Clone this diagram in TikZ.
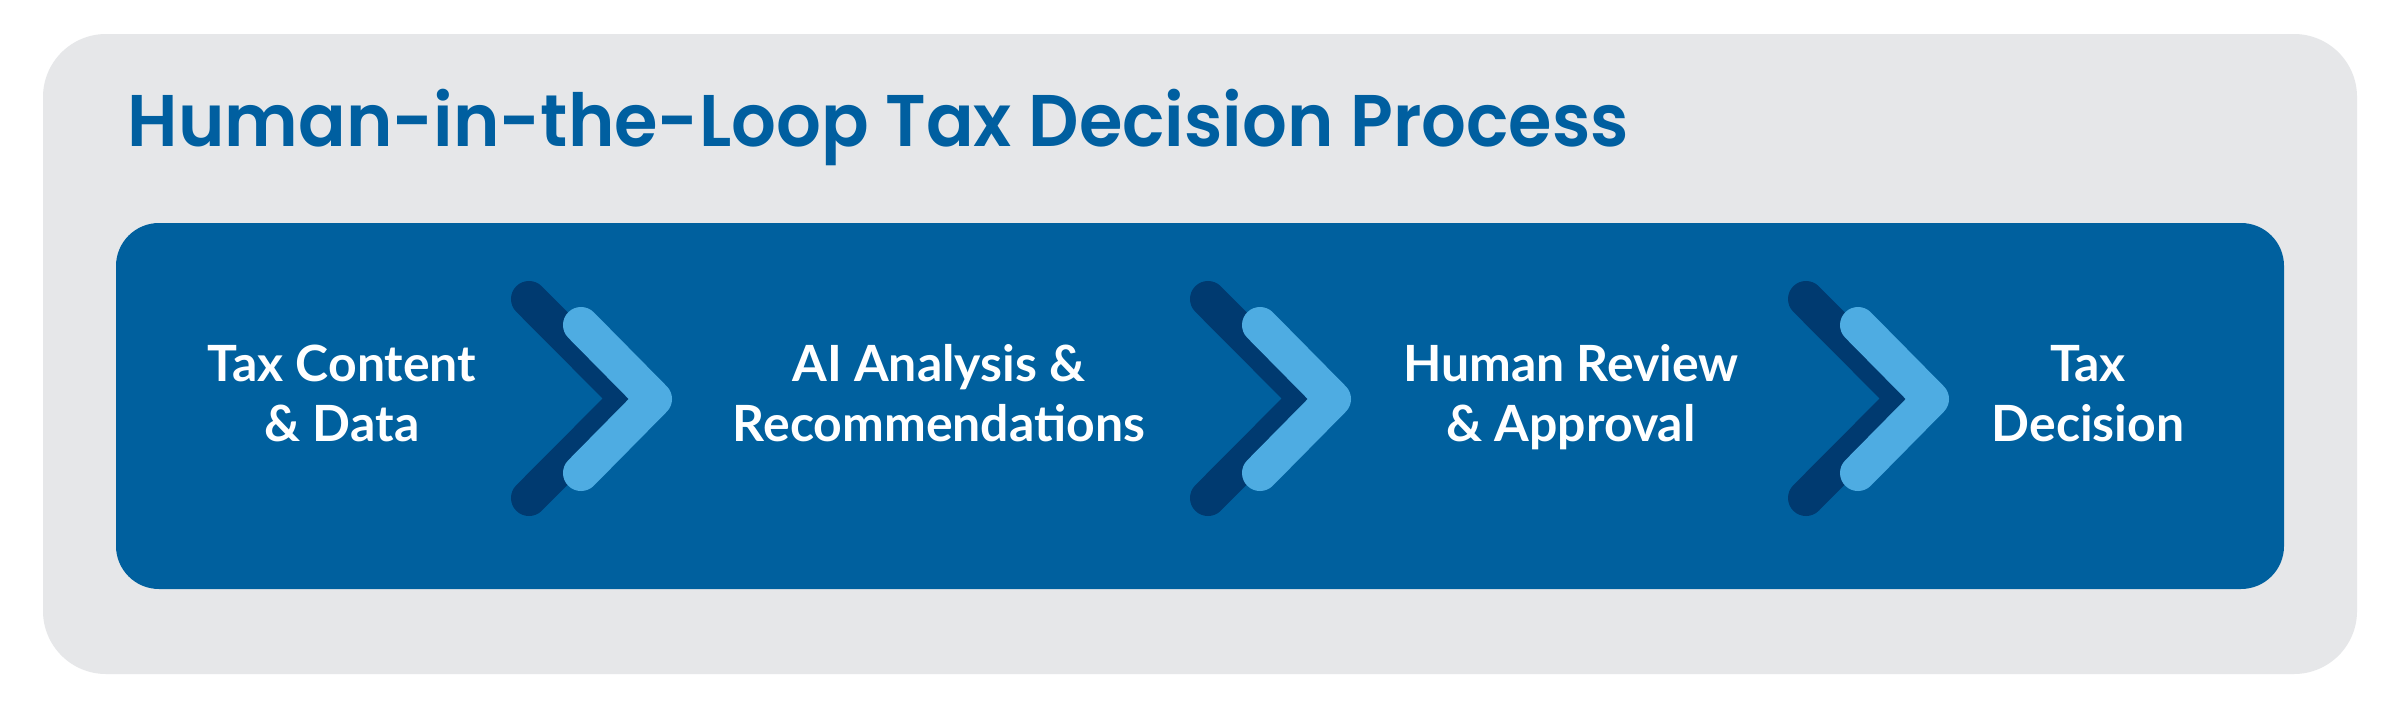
\documentclass[tikz,border=0pt]{standalone}
\usepackage{fontspec}
\usepackage{graphicx}
\newfontfamily\titlefont{Poppins SemiBold}
\newfontfamily\labelfont{Lato}
\definecolor{bggray}{HTML}{E6E7E9}
\definecolor{boxblue}{HTML}{00609E}
\definecolor{darkchev}{HTML}{003A70}
\definecolor{lightchev}{HTML}{4EACE2}
\definecolor{titleblue}{HTML}{005FA0}
\tikzset{
  steplabel/.style={text=white, font=\labelfont\bfseries\fontsize{14.2}{16.8}\selectfont, align=center, inner sep=0pt, anchor=base},
  chevdark/.style={draw=darkchev, line width=0.36cm, line cap=round, line join=round},
  chevlight/.style={draw=lightchev, line width=0.36cm, line cap=round, line join=round},
}
\begin{document}
\begin{tikzpicture}[x=0.01cm,y=-0.01cm]
\useasboundingbox (0,0) rectangle (2400,709);
\fill[white] (0,0) rectangle (2400,709);
\fill[bggray, rounded corners=0.63cm] (43,34) rectangle (2357,674);
\fill[boxblue, rounded corners=0.43cm] (116,223) rectangle (2284,589);
\node[anchor=base west, inner sep=0pt, text=titleblue, font=\titlefont\fontsize{20.8}{24}\selectfont] (title) at (127,146) {\scalebox{0.962}[1]{Human-in-the-Loop Tax Decision Process}};
\foreach \x/\n in {529/a,1208/b,1806/c}{
  \draw[chevdark] (\x,299) -- (\x+99,398.5) -- (\x,498);
  \draw[chevlight] (\x+52,325) -- (\x+125,399) -- (\x+52,473);
}
\node[steplabel] (s1) at (342,441) {Tax Content\\\& Data};
\node[steplabel] (s2) at (939,441) {AI Analysis \&\\Recommendations};
\node[steplabel] (s3) at (1571,441) {Human Review\\\& Approval};
\node[steplabel] (s4) at (2088,441) {Tax\\Decision};
\end{tikzpicture}
\end{document}
